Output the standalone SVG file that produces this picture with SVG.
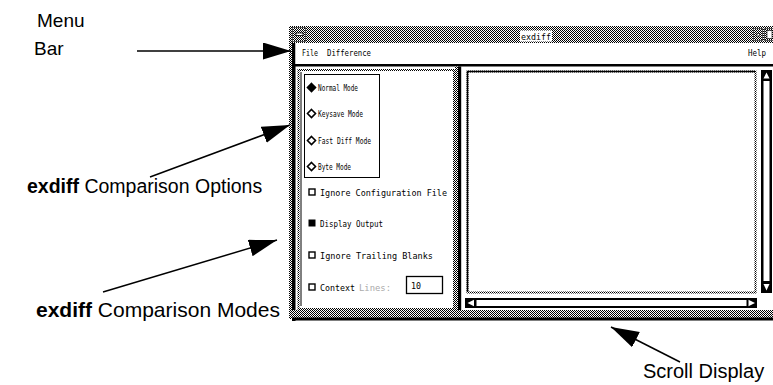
<svg xmlns="http://www.w3.org/2000/svg" width="773" height="385" viewBox="0 0 773 385">
<defs>
<pattern id="st" width="2" height="2" patternUnits="userSpaceOnUse"><rect width="2" height="2" fill="#fff"/><rect width="1" height="1" fill="#000"/><rect x="1" y="1" width="1" height="1" fill="#000"/></pattern>
<marker id="ah" markerUnits="userSpaceOnUse" markerWidth="30" markerHeight="18" refX="28" refY="8.5" orient="auto" viewBox="0 0 30 18"><path d="M0,0 L28,8.5 L0,17 z" fill="#000"/></marker>
<style>
.lbl{font-family:"Liberation Sans",Arial,sans-serif;font-size:19.5px;fill:#000}
.b{font-weight:bold}
.ui{font-family:"DejaVu Sans Mono","Liberation Mono",monospace;font-size:9.5px;fill:#000}
.conn{stroke:#000;stroke-width:1.5;fill:none;marker-end:url(#ah)}
.stp{fill:url(#st)}
.blk{fill:#000}
.diam{stroke:#000;stroke-width:1.6}
.cb{fill:#fff;stroke:#000;stroke-width:1.4}
</style>
</defs>
<rect width="773" height="385" fill="#fff"/>

<g id="window">
  <!-- title bar -->
  <rect class="stp" x="289" y="26" width="484" height="17"/>
  <rect x="292.5" y="27.5" width="13" height="14" fill="none" stroke="#555" stroke-width="1"/>
  <rect x="296" y="33" width="7" height="2.5" fill="#fff" stroke="#000" stroke-width="0.8"/>
  <rect x="753.5" y="28.5" width="9" height="12" fill="none" stroke="#555" stroke-width="1"/>
  <rect x="757" y="33.5" width="2.5" height="2.5" fill="#fff" stroke="#000" stroke-width="0.6"/>
  <rect x="764.5" y="28.5" width="9" height="12" fill="none" stroke="#555" stroke-width="1"/>
  <rect x="767" y="30.5" width="5" height="8" fill="#fff" stroke="#000" stroke-width="0.6"/>
  <rect x="520" y="30.5" width="32" height="11" fill="#fff"/>
  <text class="ui" x="521" y="39.5" textLength="30" lengthAdjust="spacingAndGlyphs">exdiff</text>
  <!-- left frame -->
  <rect class="stp" x="289" y="43" width="3" height="276"/>
  <rect class="blk" x="292" y="43" width="3.5" height="278"/>
  <!-- menu bar -->
  <rect x="295.5" y="43" width="477.5" height="21" fill="#fff"/>
  <rect class="blk" x="292" y="64" width="481" height="2.5"/>
  <!-- bottom frame -->
  <rect class="stp" x="289" y="310" width="484" height="8"/>
  <rect class="blk" x="292" y="317.5" width="481" height="3"/>
  <!-- divider -->
  <rect class="stp" x="455" y="66.5" width="3" height="243.5"/>
  <rect class="blk" x="458" y="66.5" width="3.2" height="243.5"/>
</g>

<g id="menubar">
  <text class="ui" x="302" y="56" textLength="16" lengthAdjust="spacingAndGlyphs">File</text>
  <text class="ui" x="327" y="56" textLength="44" lengthAdjust="spacingAndGlyphs">Difference</text>
  <text class="ui" x="748" y="56" textLength="18" lengthAdjust="spacingAndGlyphs">Help</text>
</g>

<g id="left-panel">
  <rect x="298.5" y="70" width="155.5" height="239" fill="#fff" stroke="url(#st)" stroke-width="2"/>
  <line x1="301" y1="72" x2="301" y2="306" stroke="#000" stroke-width="1"/>
</g>

<g id="mode-box">
  <rect x="304.5" y="74.5" width="75" height="103" fill="#fff" stroke="#000" stroke-width="1"/>
  <path class="diam" d="M311.5,83.5 L315.5,87.5 L311.5,91.5 L307.5,87.5 z" fill="#000"/>
  <text class="ui" x="318" y="91" textLength="40" lengthAdjust="spacingAndGlyphs">Normal Mode</text>
  <path class="diam" d="M311.5,109.5 L315.5,113.5 L311.5,117.5 L307.5,113.5 z" fill="#fff"/>
  <text class="ui" x="318" y="117" textLength="45" lengthAdjust="spacingAndGlyphs">Keysave Mode</text>
  <path class="diam" d="M311.5,136.5 L315.5,140.5 L311.5,144.5 L307.5,140.5 z" fill="#fff"/>
  <text class="ui" x="318" y="144" textLength="53" lengthAdjust="spacingAndGlyphs">Fast Diff Mode</text>
  <path class="diam" d="M311.5,162.5 L315.5,166.5 L311.5,170.5 L307.5,166.5 z" fill="#fff"/>
  <text class="ui" x="318" y="170" textLength="33" lengthAdjust="spacingAndGlyphs">Byte Mode</text>
</g>

<g id="options">
  <rect class="cb" x="309" y="189" width="6" height="6"/>
  <text class="ui" x="320" y="196" textLength="127" lengthAdjust="spacingAndGlyphs">Ignore Configuration File</text>
  <rect x="308.5" y="219.5" width="7" height="7" fill="#000"/>
  <text class="ui" x="320" y="227" textLength="63" lengthAdjust="spacingAndGlyphs">Display Output</text>
  <rect class="cb" x="309" y="252" width="6" height="6"/>
  <text class="ui" x="320" y="259" textLength="113" lengthAdjust="spacingAndGlyphs">Ignore Trailing Blanks</text>
  <rect class="cb" x="309" y="284" width="6" height="6"/>
  <text class="ui" x="320" y="291" textLength="35" lengthAdjust="spacingAndGlyphs">Context</text>
  <text class="ui" x="359" y="291" textLength="32" lengthAdjust="spacingAndGlyphs" style="fill:#aaa">Lines:</text>
  <rect x="406.5" y="276.5" width="36" height="17" fill="#fff" stroke="#000" stroke-width="1.3"/>
  <text class="ui" x="411" y="289" textLength="10" lengthAdjust="spacingAndGlyphs">10</text>
</g>

<g id="text-area">
  <rect x="467.5" y="71.5" width="288" height="221" fill="#fff" stroke="url(#st)" stroke-width="2"/>
  <path d="M467.5,292 L467.5,71.5 L755,71.5" fill="none" stroke="#000" stroke-width="1.5"/>
</g>

<g id="v-scrollbar">
  <rect class="blk" x="761" y="70" width="11" height="223"/>
  <rect x="763.5" y="81" width="6" height="200" fill="#fff"/>
  <path d="M766.5,72.5 L769.5,78.5 L763.5,78.5 z" fill="#fff"/>
  <path d="M766.5,290.5 L769.5,284 L763.5,284 z" fill="#fff"/>
</g>

<g id="h-scrollbar">
  <rect class="blk" x="465" y="298" width="292" height="10"/>
  <rect x="476.5" y="300" width="270" height="6" fill="#fff"/>
  <path d="M467.5,303 L474,299.8 L474,306.2 z" fill="#fff"/>
  <path d="M755,303 L748.5,299.8 L748.5,306.2 z" fill="#fff"/>
</g>

<g id="labels">
  <text class="lbl" x="37" y="27" style="font-size:19px">Menu</text>
  <text class="lbl" x="34" y="55" style="font-size:19px">Bar</text>
  <text class="lbl" x="27" y="193"><tspan class="b">exdiff</tspan> Comparison Options</text>
  <text class="lbl" x="36" y="317" style="font-size:21px"><tspan class="b">exdiff</tspan> Comparison Modes</text>
  <text class="lbl" x="643" y="378" style="font-size:20px">Scroll Display</text>
</g>

<g id="connectors">
  <line class="conn" x1="137" y1="51" x2="291" y2="51"/>
  <line class="conn" x1="150" y1="177" x2="290" y2="125"/>
  <line class="conn" x1="103" y1="292" x2="277" y2="240"/>
  <line class="conn" x1="680" y1="362" x2="611" y2="327"/>
</g>
</svg>
